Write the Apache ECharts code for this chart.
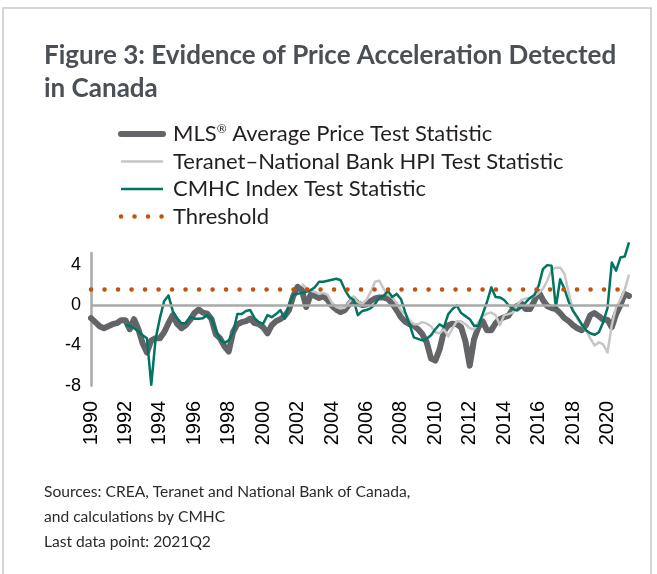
<!DOCTYPE html>
<html><head><meta charset="utf-8">
<script src="https://cdn.jsdelivr.net/npm/echarts@6/dist/echarts.min.js"></script>
<style>html,body{margin:0;padding:0;background:#fff}#c{width:657px;height:574px}</style>
</head><body><div id="c"></div>
<script>
// Quarterly categories 1990Q1 .. 2021Q2
const quarters = [];
for (let y = 1990; y <= 2021; y++) for (let q = 1; q <= 4; q++) { if (y === 2021 && q > 2) break; quarters.push(y + 'Q' + q); }

const yTicks = [-8, -4, 0, 4];
const threshold = 1.53;

const mls = [
 -1.3, -1.7, -2.1, -2.3, -2.1, -1.9, -1.8, -1.5, -1.5, -2.4,
 -1.4, -2.4, -3.8, -4.7, -3.5, -3.3, -3.3, -2.7, -1.8, -1.0,
 -1.85, -2.3, -2.0, -1.5, -0.8, -0.45, -0.75, -0.85, -1.4, -2.9,
 -3.3, -4.1, -4.6, -2.7, -1.9, -1.7, -1.6, -1.35, -1.8, -1.9,
 -2.2, -2.8, -2.0, -1.6, -1.4, -1.1, -0.5, 0.9, 1.8, 1.5,
 -0.2, 1.0, 0.9, 0.7, 0.9, 0.5, -0.1, -0.45, -0.7, -0.5,
 0.1, 0.6, 0.15, 0.0, 0.05, 0.4, 0.65, 0.75, 0.75, 0.6,
 0.15, -0.5, -1.2, -1.65, -1.9, -2.05, -2.4, -2.9, -3.7, -5.3,
 -5.5, -4.4, -2.6, -2.0, -1.85, -1.9, -2.2, -3.6, -6.0, -3.4,
 -2.2, -1.6, -2.5, -2.5, -1.8, -1.4, -1.2, -1.05, -0.4, -0.1,
 0.15, -0.4, -0.4, 0.4, 1.3, 0.5, -0.1, -0.3, -0.4, -0.8,
 -1.3, -1.6, -2.0, -2.3, -2.5, -2.0, -1.0, -0.8, -1.1, -1.45,
 -1.45, -2.2, -0.9, 0.0, 1.1, 0.9
];

const teranet = [
 null, null, null, null, null, null, null, null, null, null,
 null, null, null, null, null, null, null, null, null, null,
 null, null, null, null, null, null, null, null, null, null,
 null, null, null, null, null, null, null, null, null, null,
 null, null, null, null, null, null, null, null, null, 2.1,
 1.7, 1.5, 1.3, 1.1, 1.2, 1.0, 0.2, -0.2, -0.35, -0.25,
 0.3, 0.85, 0.3, 0.1, 0.5, 1.3, 2.3, 2.4, 1.6, 1.0,
 0.75, 0.2, -0.5, -0.9, -1.5, -1.9, -1.9, -1.7, -1.85, -2.1,
 -2.7, -2.8, -2.4, -3.1, -2.3, -1.6, -1.6, -1.9, -2.3, -2.4,
 -1.7, -1.1, -0.85, -0.75, -1.0, -2.0, -1.0, -0.9, -0.75, 0.0,
 0.5, 0.65, 0.7, 0.9, 1.2, 1.6, 2.4, 3.5, 3.7, 3.7,
 3.1, 1.2, -0.5, -1.4, -2.0, -2.5, -3.3, -4.0, -3.7, -3.9,
 -4.7, -2.0, -0.2, 0.5, 1.5, 3.0
];

const cmhc = [
 null, null, null, null, null, null, null, null, -2.0, -2.05,
 -2.3, -2.6, -3.0, -3.3, -7.9, -3.4, -1.3, 0.4, 0.95, -0.6,
 -1.3, -1.8, -1.8, -1.2, -1.35, -1.35, -1.3, -1.0, -1.35, -2.5,
 -3.4, -3.75, -3.5, -2.8, -0.9, -0.9, -0.6, -0.5, -1.3, -1.7,
 -1.85, -1.0, -1.2, -0.9, -0.5, -1.35, 0.0, 1.0, 1.1, 1.2,
 1.3, 1.45, 1.75, 2.3, 2.3, 2.4, 2.5, 2.6, 2.45, 1.5,
 0.8, 0.5, -1.0, -0.6, -0.5, -0.3, 0.1, 0.75, 0.9, 1.4,
 0.8, 1.1, 0.6, -0.7, -1.9, -3.2, -3.35, -3.5, -3.35, -3.0,
 -2.4, -1.9, -2.2, -0.9, -0.4, -0.05, -0.8, -1.1, -1.4, -2.05,
 -2.05, -0.9, 0.3, 1.75, 0.8, 0.75, 0.5, 0.0, -0.4, -0.55,
 -0.25, 0.25, 0.7, 1.0, 1.9, 3.55, 3.95, 3.9, -0.25, 2.55,
 1.6, 0.3, -0.6, -1.2, -1.9, -2.5, -2.8, -2.95, -2.7, -1.7,
 -0.3, 4.2, 3.4, 4.7, 4.8, 6.2
];

const names = ['MLS® Average Price Test Statistic', 'Teranet–National Bank HPI Test Statistic', 'CMHC Index Test Statistic', 'Threshold'];
const colors = { mls: '#636467', teranet: '#c6c6c6', cmhc: '#007561', thr: '#c4520e', axis: '#a9a9a9' };
const dotDash = [0.1, 13.4];

const chart = echarts.init(document.getElementById('c'), null, { renderer: 'canvas' });
chart.setOption({
  animation: false,
  backgroundColor: '#fff',
  title: {
    text: 'Figure 3: Evidence of Price Acceleration Detected\nin Canada',
    left: 44, top: 39, padding: 0,
    textStyle: { fontFamily: 'Lato', fontWeight: 'bold', fontSize: 26, lineHeight: 33, color: '#4b4f56' }
  },
  graphic: [
    { type: 'rect', shape: { x: 3, y: 8, width: 648, height: 600 }, style: { fill: 'none', stroke: '#c8c8c8', lineWidth: 1.5 }, silent: true },
    { type: 'text', left: 44, top: 479, style: { text: 'Sources: CREA, Teranet and National Bank of Canada,\nand calculations by CMHC\nLast data point: 2021Q2', font: '15.6px Lato', lineHeight: 25, fill: '#2b2b2b' } }
  ],
  legend: {
    data: [
      { name: names[0], lineStyle: { color: colors.mls, width: 6, cap: 'round' } },
      { name: names[1], lineStyle: { color: colors.teranet, width: 2.5 } },
      { name: names[2], lineStyle: { color: colors.cmhc, width: 2.5 } },
      { name: names[3], lineStyle: { color: colors.thr, width: 4.5, type: dotDash, cap: 'round' } }
    ],
    orient: 'vertical', left: 118, top: 123, padding: 0,
    itemWidth: 42, itemHeight: 14, itemGap: 5.5,
    itemStyle: { opacity: 0 },
    textStyle: { fontFamily: 'Lato', fontSize: 22, color: '#231f20', padding: [0, 0, 0, 5],
      rich: { sup: { fontFamily: 'Lato', fontSize: 12, color: '#231f20', padding: [0, 0, 10, 0] } } },
    formatter: n => n.replace('®', '{sup|®}'),
    selectedMode: false
  },
  grid: { left: 91, right: 28, top: 253, bottom: 188.2, containLabel: false },
  xAxis: {
    type: 'category', data: quarters, boundaryGap: false,
    axisLine: { show: false }, axisTick: { show: false }, splitLine: { show: false },
    axisLabel: { interval: 7, rotate: 90, margin: 15, fontFamily: 'Liberation Sans', fontSize: 20, color: '#000',
      formatter: v => v.slice(0, 4) }
  },
  yAxis: {
    type: 'value', min: yTicks[0], max: 5.15, interval: 4,
    axisLine: { show: true, lineStyle: { color: colors.axis, width: 2.5 } },
    axisTick: { show: false }, splitLine: { show: false },
    axisLabel: { fontFamily: 'Liberation Sans', fontSize: 18, color: '#000', margin: 10, showMaxLabel: false, padding: [0, 0, 6, 0] }
  },
  series: [
    { name: 'zero', type: 'line', data: [], z: 1, silent: true,
      markLine: { symbol: 'none', silent: true, label: { show: false },
        lineStyle: { color: colors.axis, width: 2.5, type: 'solid' }, data: [{ yAxis: 0 }] } },
    { name: names[0], type: 'line', data: mls, z: 2, symbol: 'none', showSymbol: false,
      lineStyle: { color: colors.mls, width: 6, cap: 'round', join: 'round' }, itemStyle: { color: colors.mls } },
    { name: names[1], type: 'line', data: teranet, z: 3, symbol: 'none', showSymbol: false,
      lineStyle: { color: colors.teranet, width: 2.5, join: 'round' }, itemStyle: { color: colors.teranet } },
    { name: names[2], type: 'line', data: cmhc, z: 4, symbol: 'none', showSymbol: false, clip: false,
      lineStyle: { color: colors.cmhc, width: 2.5, join: 'round' }, itemStyle: { color: colors.cmhc } },
    { name: names[3], type: 'line', data: [], z: 5, symbol: 'none', showSymbol: false,
      lineStyle: { color: colors.thr, width: 4.5, type: dotDash, cap: 'round' }, itemStyle: { color: colors.thr },
      markLine: { symbol: 'none', silent: true, label: { show: false },
        lineStyle: { color: colors.thr, width: 4.5, type: dotDash, cap: 'round' }, data: [{ yAxis: threshold }] } }
  ]
});
</script></body></html>
